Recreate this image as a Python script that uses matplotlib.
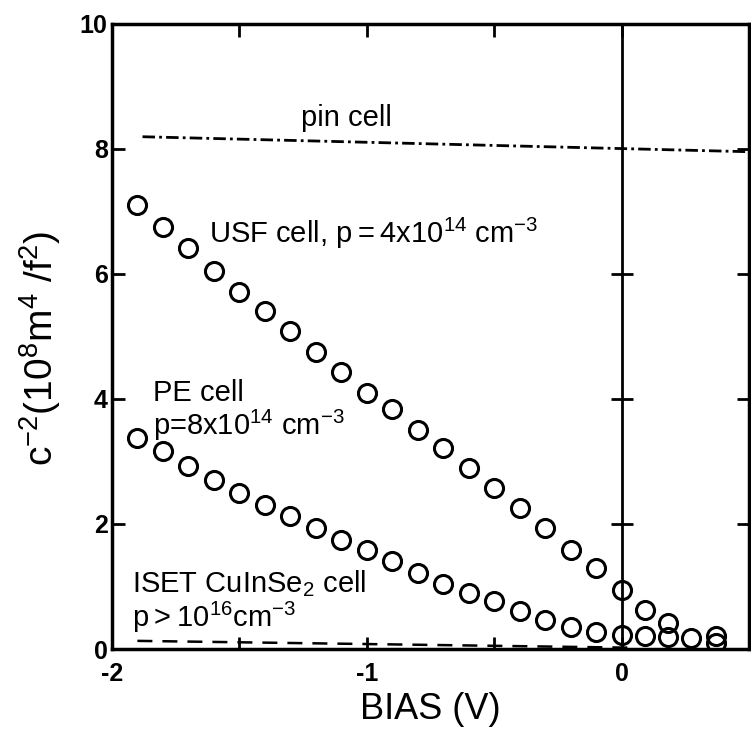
import matplotlib
matplotlib.use("Agg")
import matplotlib.pyplot as plt

plt.rcParams['font.family'] = ['Liberation Sans', 'DejaVu Sans']
plt.rcParams['mathtext.fontset'] = 'custom'
plt.rcParams['mathtext.rm'] = 'Liberation Sans'
plt.rcParams['mathtext.default'] = 'regular'
plt.rcParams['axes.unicode_minus'] = False

# USF cell, p = 4x10^14 cm^-3
usf_x = [-1.9, -1.8, -1.7, -1.6, -1.5, -1.4, -1.3, -1.2, -1.1, -1.0,
         -0.9, -0.8, -0.7, -0.6, -0.5, -0.4, -0.3, -0.2, -0.1, 0.0,
         0.09, 0.18, 0.37]
usf_y = [7.10, 6.75, 6.41, 6.05, 5.71, 5.40, 5.09, 4.75, 4.43, 4.10,
         3.84, 3.50, 3.21, 2.89, 2.57, 2.25, 1.93, 1.59, 1.29, 0.94,
         0.63, 0.41, 0.20]

# PE cell, p = 8x10^14 cm^-3
pe_x = [-1.9, -1.8, -1.7, -1.6, -1.5, -1.4, -1.3, -1.2, -1.1, -1.0,
        -0.9, -0.8, -0.7, -0.6, -0.5, -0.4, -0.3, -0.2, -0.1, 0.0,
        0.09, 0.18, 0.27, 0.37]
pe_y = [3.38, 3.17, 2.93, 2.70, 2.50, 2.30, 2.12, 1.93, 1.74, 1.58,
        1.40, 1.21, 1.04, 0.89, 0.76, 0.61, 0.46, 0.35, 0.27, 0.22,
        0.21, 0.19, 0.17, 0.10]

# pin cell (dash-dot) and ISET CuInSe2 cell (dashed)
pin_x = [-1.88, 0.5]
pin_y = [8.19, 7.95]
iset_x = [-1.9, 0.05]
iset_y = [0.13, 0.02]

xticks = [-2, -1.5, -1, -0.5, 0, 0.5]
xticklabels = ['-2', '', '-1', '', '0', '']
yticks = [0, 2, 4, 6, 8, 10]
mid_ticks = [2, 4, 6]

fig = plt.figure(figsize=(7.51, 7.35), dpi=100)
ax = fig.add_axes([0.149, 0.117, 0.849, 0.851])

ax.plot(usf_x, usf_y, 'o', ms=13, mfc='none', mec='black', mew=2.2)
ax.plot(pe_x, pe_y, 'o', ms=13, mfc='none', mec='black', mew=2.2)
ax.plot(pin_x, pin_y, color='black', lw=2, dashes=(4.5, 1.5, 1, 1.5))
ax.plot(iset_x, iset_y, color='black', lw=1.8, dashes=(6, 4))

# vertical line at zero bias with crossing ticks
ax.axvline(0, color='black', lw=2)
ax.plot([0] * len(mid_ticks), mid_ticks, '_', color='black', ms=16, mew=2)

ax.set_xlim(-2, 0.5)
ax.set_ylim(0, 10)
ax.set_xticks(xticks)
ax.set_xticklabels(xticklabels)
ax.set_yticks(yticks)
ax.tick_params(direction='in', length=9, width=2, top=True, right=True,
               labelsize=18)
ax.tick_params(axis='x', pad=9)
ax.tick_params(axis='y', pad=3)
for lab in ax.get_xticklabels() + ax.get_yticklabels():
    lab.set_fontweight('bold')
for s in ax.spines.values():
    s.set_linewidth(2.5)

ax.set_xlabel('BIAS (V)', fontsize=26, labelpad=5)
ax.set_ylabel('c$^{-2}$(10$^8$m$^4$ /f$^2$)', fontsize=28)
ax.yaxis.set_label_coords(-0.077, 0.48)

fs = 21
ax.text(-1.26, 8.49, 'pin cell', fontsize=fs, va='center')
ax.text(-1.62, 6.65, 'USF cell, p$=$4x10$^{14}$ cm$^{-3}$', fontsize=fs, va='center')
ax.text(-1.84, 4.09, 'PE cell', fontsize=fs, va='center')
ax.text(-1.84, 3.58, 'p=8x10$^{14}$ cm$^{-3}$', fontsize=fs, va='center')
ax.text(-1.92, 1.05, 'ISET CuInSe$_2$ cell', fontsize=fs, va='center')
ax.text(-1.92, 0.51, 'p$>$10$^{16}$cm$^{-3}$', fontsize=fs, va='center')

fig.savefig('out.png', dpi=100)
